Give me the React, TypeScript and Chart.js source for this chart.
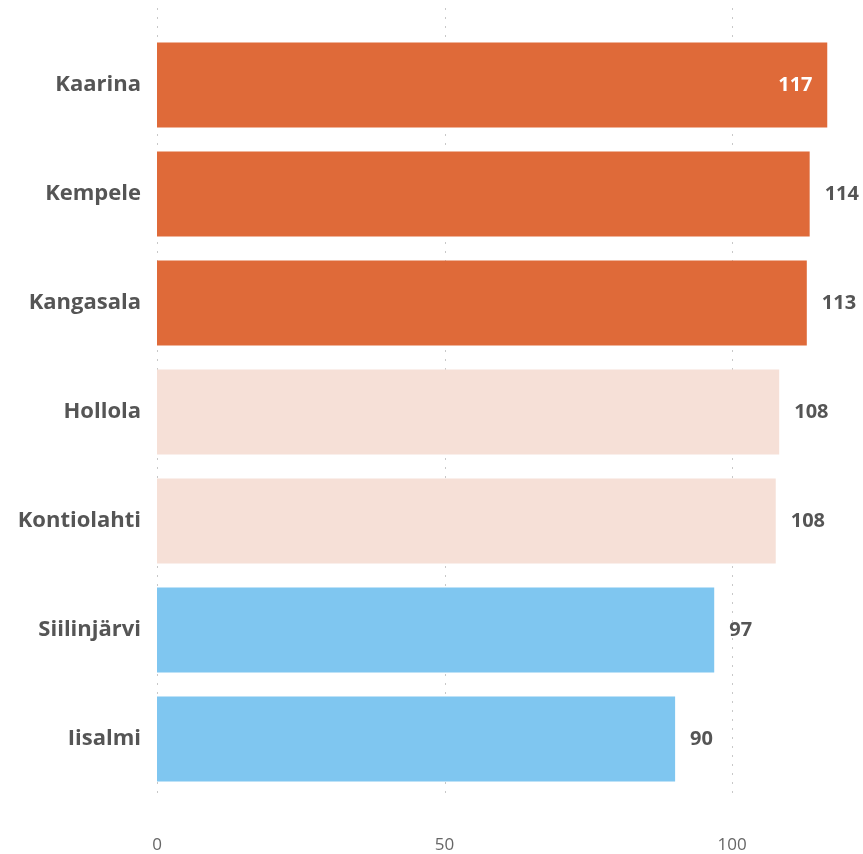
import React, { useEffect, useRef } from "react";
import { Chart, registerables } from "chart.js";

Chart.register(...registerables);

const categories = ["Kaarina", "Kempele", "Kangasala", "Hollola", "Kontiolahti", "Siilinjärvi", "Iisalmi"];
const values = [116.6, 113.5, 113.0, 108.2, 107.6, 96.9, 90.1];
const barColors = ["#DF6A39", "#DF6A39", "#DF6A39", "#F6E0D7", "#F6E0D7", "#7FC6F0", "#7FC6F0"];
const tickValues = [0, 50, 100];

const FONT = "'Open Sans', 'Noto Sans', sans-serif";

const gridPlugin = {
  id: "dottedGrid",
  beforeDatasetsDraw(chart: any) {
    const { ctx } = chart;
    const xs = chart.scales.x;
    ctx.save();
    ctx.strokeStyle = "#c8c8c8";
    ctx.lineWidth = 1;
    ctx.setLineDash([2, 7]);
    tickValues.forEach((v) => {
      const x = Math.round(xs.getPixelForValue(v)) + 0.5;
      ctx.beginPath();
      ctx.moveTo(x, 8);
      ctx.lineTo(x, 800);
      ctx.stroke();
    });
    ctx.restore();
  },
};

const labelPlugin = {
  id: "valueLabels",
  afterDatasetsDraw(chart: any) {
    const { ctx } = chart;
    const meta = chart.getDatasetMeta(0);
    ctx.save();
    ctx.font = `bold 20px ${FONT}`;
    ctx.textBaseline = "middle";
    meta.data.forEach((bar: any, i: number) => {
      const text = String(Math.round(values[i]));
      const w = ctx.measureText(text).width;
      if (bar.x + 15 + w > chart.width) {
        ctx.fillStyle = "#ffffff";
        ctx.textAlign = "right";
        ctx.fillText(text, bar.x - 15, bar.y);
      } else {
        ctx.fillStyle = "#555555";
        ctx.textAlign = "left";
        ctx.fillText(text, bar.x + 15, bar.y);
      }
    });
    ctx.restore();
  },
};

export default function App() {
  const ref = useRef<HTMLCanvasElement | null>(null);
  useEffect(() => {
    document.body.style.margin = "0";
    if (!ref.current) return;
    const chart = new Chart(ref.current, {
      type: "bar",
      data: {
        labels: categories,
        datasets: [
          {
            data: values,
            backgroundColor: barColors,
            borderWidth: 0,
            categoryPercentage: 1,
            barPercentage: 0.78,
          },
        ],
      },
      options: {
        indexAxis: "y",
        animation: false,
        responsive: false,
        layout: { padding: { top: 30.5, right: 35.5, bottom: 0, left: 0 } },
        plugins: { legend: { display: false }, tooltip: { enabled: false } },
        scales: {
          x: {
            min: 0,
            max: Math.max(...values),
            afterBuildTicks(scale: any) {
              scale.ticks = tickValues.map((v) => ({ value: v }));
            },
            afterFit(scale: any) {
              scale.height = 60.5;
            },
            grid: { display: false, drawTicks: false },
            border: { display: false },
            ticks: {
              padding: 41,
              color: "#666666",
              font: { family: FONT, size: 17 },
              maxRotation: 0,
            },
          },
          y: {
            afterFit(scale: any) {
              scale.width = 157;
            },
            grid: { display: false, drawTicks: false },
            border: { display: false },
            ticks: {
              padding: 16,
              color: "#555555",
              font: { family: FONT, size: 22, weight: "bold" },
            },
          },
        },
      },
      plugins: [gridPlugin, labelPlugin],
    });
    return () => chart.destroy();
  }, []);
  return (
    <div style={{ width: 863, height: 854 }}>
      <canvas ref={ref} width={863} height={854} style={{ display: "block" }} />
    </div>
  );
}
